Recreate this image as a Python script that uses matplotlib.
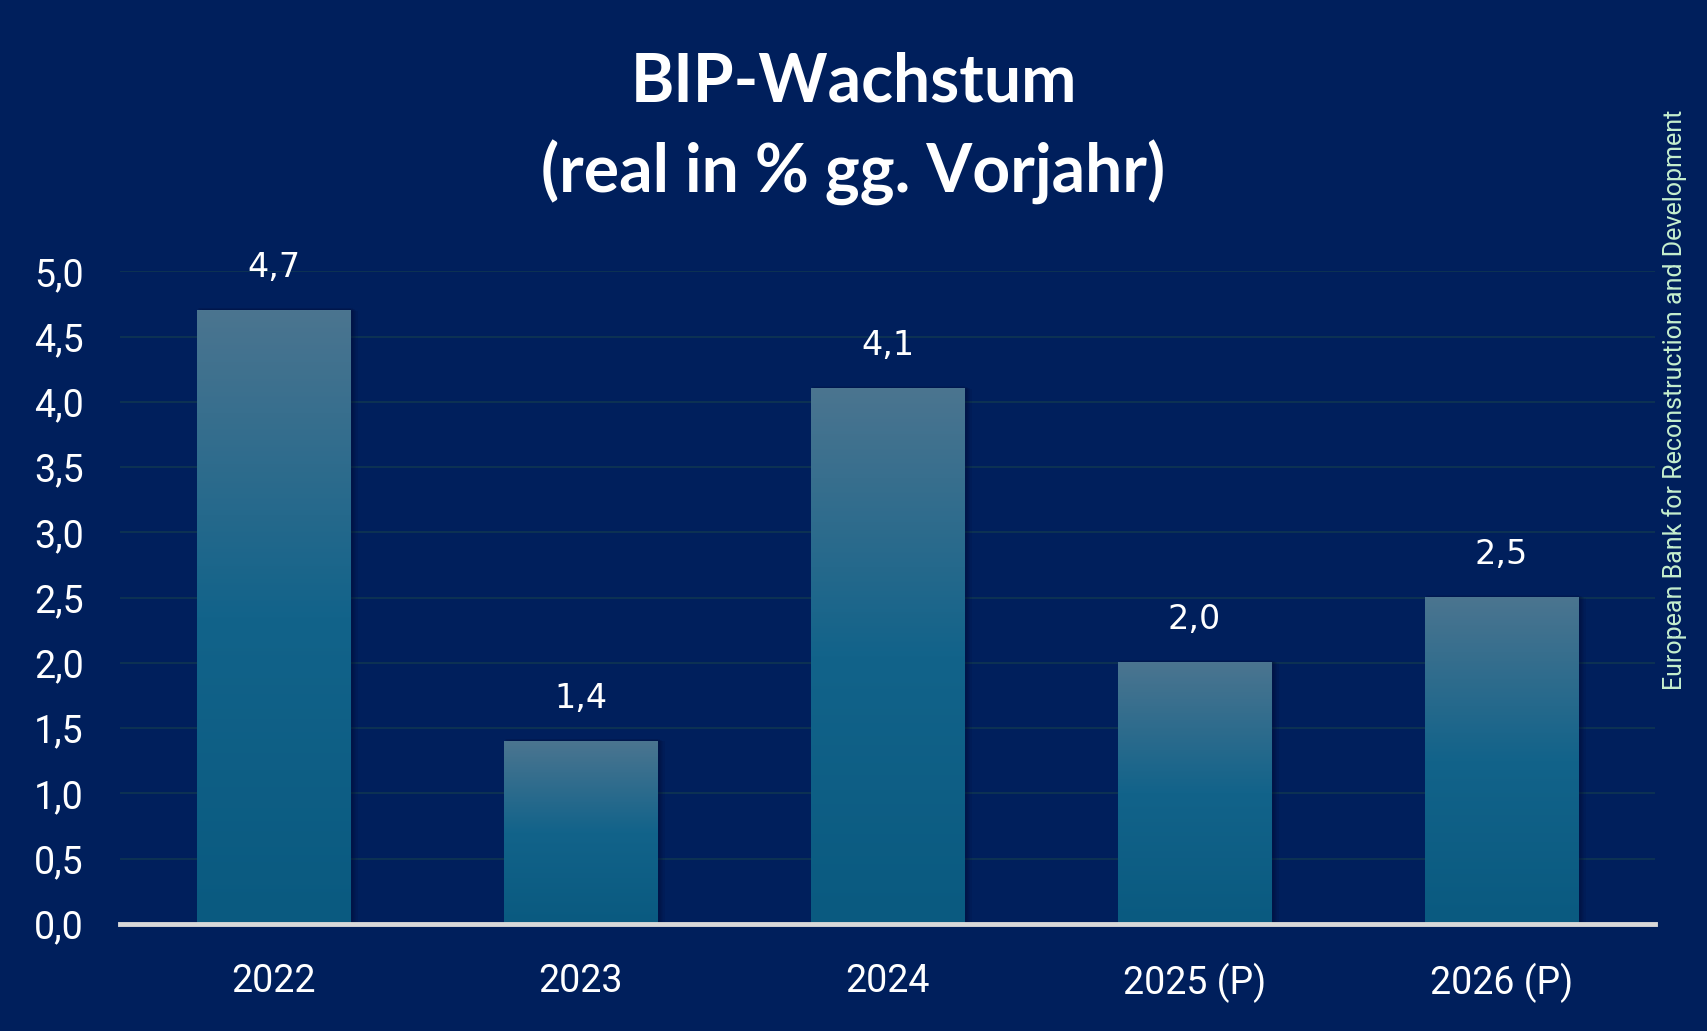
import numpy as np
import matplotlib
matplotlib.use("Agg")
import matplotlib.pyplot as plt
from matplotlib.patches import Rectangle
from matplotlib.colors import LinearSegmentedColormap

# --- DATA ---
years = ["2022", "2023", "2024", "2025 (P)", "2026 (P)"]
growth = [4.7, 1.4, 4.1, 2.0, 2.5]
yticks = [0.0, 0.5, 1.0, 1.5, 2.0, 2.5, 3.0, 3.5, 4.0, 4.5, 5.0]

# --- STYLE ---
bg = "#001f5c"
grid_col = "#0f3552"
axis_col = "#d9d9d9"
source_col = "#c6efce"
bar_cmap = LinearSegmentedColormap.from_list("bar", ["#0a5a80", "#12638a", "#4b7590"])

fig = plt.figure(figsize=(17.07, 10.31), dpi=100, facecolor=bg)
ax = fig.add_axes([0.0703, 0.1038, 0.8992, 0.633])
ax.set_facecolor(bg)

x = np.arange(len(years))
width = 0.5

# gridlines
for t in yticks[1:]:
    ax.axhline(t, color=grid_col, lw=1.2, zorder=0)

# bars with gradient + soft shadow
grad = np.linspace(0, 1, 256).reshape(-1, 1)
for xi, v in zip(x, growth):
    for k in range(6):
        off = 0.004 + k * 0.004
        ax.add_patch(Rectangle((xi - width / 2 + off, 0), width, v + 0.02 - k * 0.004,
                               color="#000a30", alpha=0.10, lw=0, zorder=1))
    ax.imshow(grad, cmap=bar_cmap, origin="lower", aspect="auto",
              extent=(xi - width / 2, xi + width / 2, 0, v), zorder=2)
    ax.text(xi, v + 0.33, f"{v:.1f}".replace(".", ","), ha="center", va="center",
            color="white", fontsize=24, family="DejaVu Sans")

ax.set_xlim(-0.5, len(years) - 0.5)
ax.set_ylim(0, 5.0)

# baseline
ax.axhline(0, color=axis_col, lw=3.5, zorder=3, clip_on=False)

for s in ax.spines.values():
    s.set_visible(False)
ax.set_xticks(x)
ax.set_xticklabels(years, color="white", fontsize=27, family="Roboto")
ax.set_yticks(yticks)
ax.set_yticklabels([f"{t:.1f}".replace(".", ",") for t in yticks],
                   color="white", fontsize=27, family="Roboto")
ax.tick_params(axis="both", length=0)
ax.tick_params(axis="x", pad=28)
ax.tick_params(axis="y", pad=26)

# title
fig.text(0.5, 0.920, "BIP-Wachstum", ha="center", va="center", color="white",
         fontsize=47.5, fontweight="bold", family="Lato")
fig.text(0.5, 0.832, "(real in % gg. Vorjahr)", ha="center", va="center", color="white",
         fontsize=47.5, fontweight="bold", family="Lato")

# source
fig.text(0.981, 0.612, "European Bank for Reconstruction and Development", rotation=90,
         ha="center", va="center", color=source_col, fontsize=18, family="Roboto")

fig.savefig("out.png", dpi=100, facecolor=bg, edgecolor="#0a3a40")
